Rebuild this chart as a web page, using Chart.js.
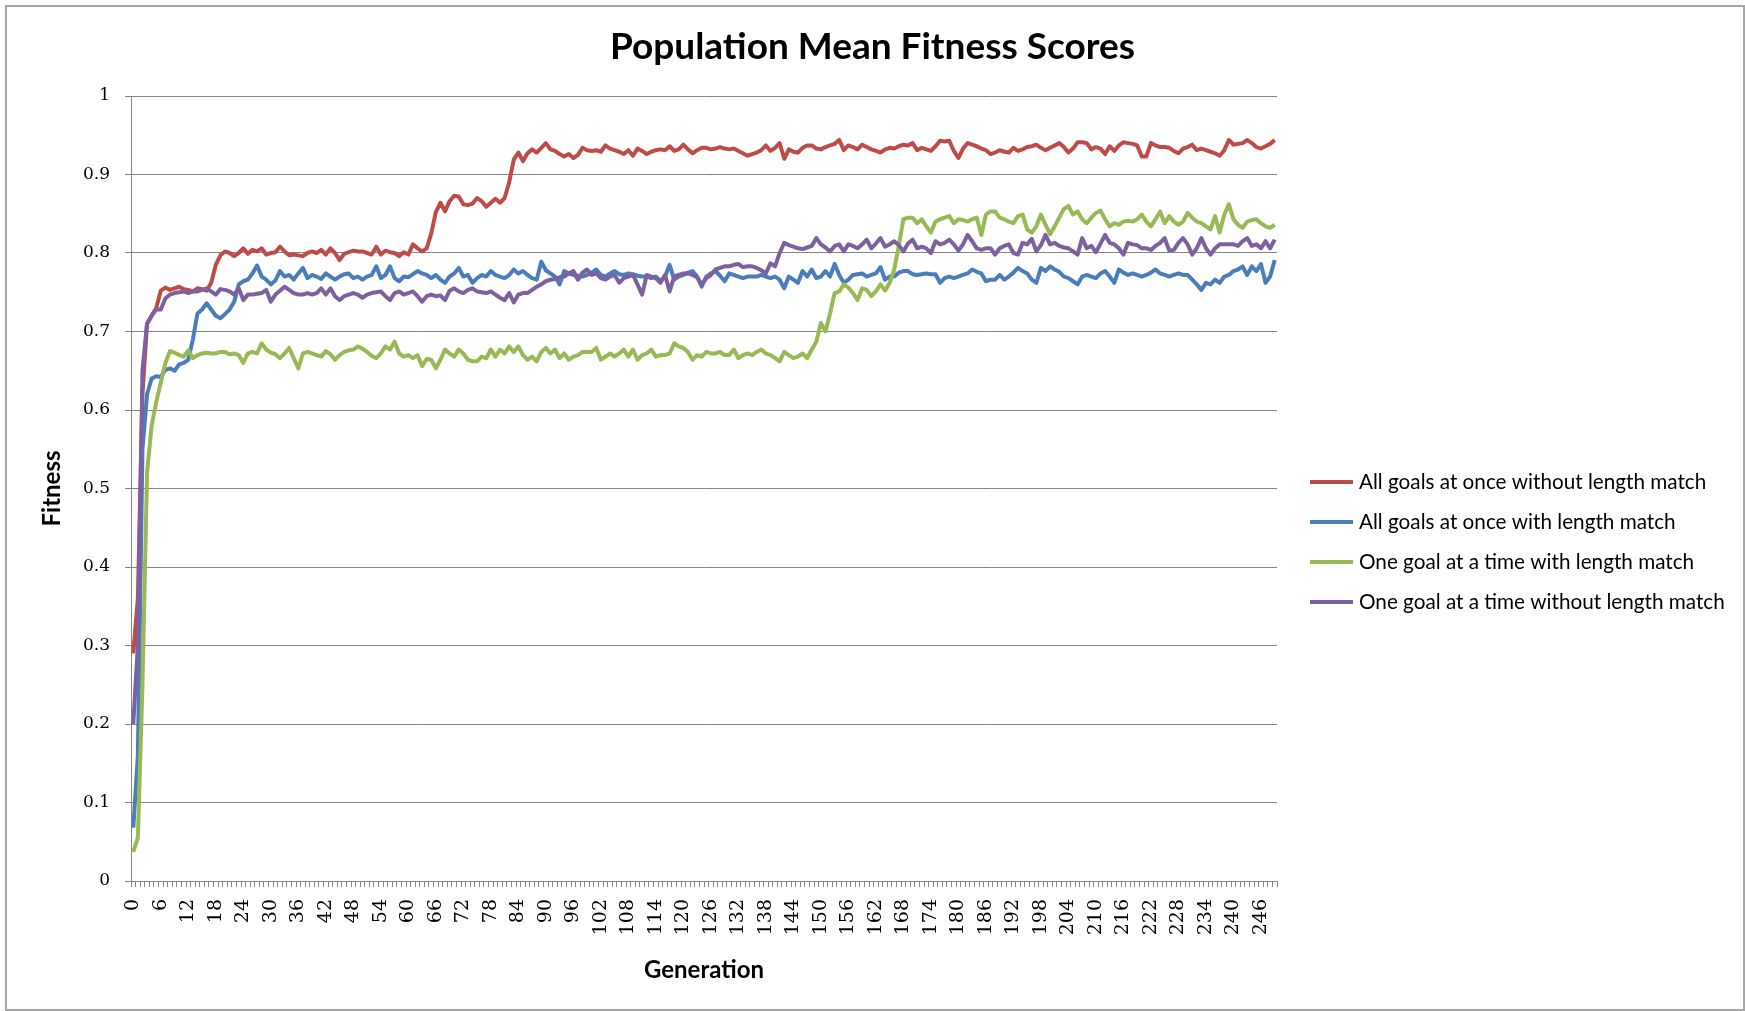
<!DOCTYPE html>
<html>
<head>
<meta charset="utf-8">
<title>Population Mean Fitness Scores</title>
<script src="https://cdn.jsdelivr.net/npm/chart.js@4.4.1/dist/chart.umd.min.js"></script>
<style>
  html, body { margin: 0; padding: 0; background: #fff; }
  #wrap { position: relative; width: 1745px; height: 1011px; overflow: hidden; }
  #frame { position: absolute; left: 5px; top: 5px; right: 0; bottom: 0; border: 2px solid #a6a6a6; pointer-events: none; }
</style>
</head>
<body>
<div id="wrap">
  <canvas id="fitness-chart" width="1745" height="1011"></canvas>
  <div id="frame"></div>
</div>
<script>
// --- data ---
const CHART_TITLE = "Population Mean Fitness Scores";
const X_TITLE = "Generation";
const Y_TITLE = "Fitness";
const TICK_EVERY = 6;

// generations 0..249
const generations = Array.from({ length: 250 }, (_, i) => String(i));

const seriesNames = [
  "All goals at once without length match",
  "All goals at once with length match",
  "One goal at a time with length match",
  "One goal at a time without length match"
];
const seriesColors = ["#BE4B48", "#4A7EBB", "#98B954", "#7D60A0"];

const allGoalsNoLength = [
  0.29,0.36,0.62,0.71,0.72,0.73,0.752,0.756,0.753,0.755,
  0.757,0.754,0.753,0.751,0.755,0.754,0.752,0.762,0.785,0.797,
  0.802,0.800,0.796,0.800,0.806,0.799,0.804,0.802,0.806,0.798,
  0.800,0.801,0.808,0.802,0.797,0.798,0.797,0.796,0.800,0.802,
  0.800,0.804,0.798,0.806,0.800,0.791,0.799,0.801,0.803,0.802,
  0.802,0.800,0.798,0.808,0.798,0.803,0.801,0.800,0.796,0.801,
  0.798,0.811,0.806,0.802,0.806,0.825,0.852,0.864,0.853,0.866,
  0.873,0.872,0.862,0.861,0.863,0.870,0.866,0.859,0.864,0.869,
  0.864,0.870,0.890,0.919,0.928,0.917,0.927,0.932,0.928,0.934,
  0.940,0.932,0.930,0.926,0.923,0.926,0.921,0.925,0.934,0.931,
  0.930,0.931,0.929,0.937,0.933,0.931,0.929,0.926,0.931,0.924,
  0.933,0.930,0.926,0.929,0.931,0.932,0.931,0.936,0.930,0.932,
  0.938,0.932,0.927,0.931,0.934,0.934,0.932,0.933,0.935,0.933,
  0.932,0.933,0.930,0.927,0.924,0.926,0.928,0.931,0.937,0.930,
  0.934,0.940,0.920,0.932,0.929,0.928,0.934,0.937,0.937,0.933,
  0.932,0.935,0.937,0.939,0.944,0.931,0.937,0.935,0.932,0.938,
  0.935,0.932,0.930,0.928,0.932,0.934,0.933,0.936,0.938,0.937,
  0.940,0.931,0.934,0.932,0.930,0.936,0.943,0.942,0.943,0.930,
  0.921,0.933,0.940,0.938,0.936,0.933,0.931,0.926,0.928,0.931,
  0.929,0.928,0.934,0.930,0.932,0.935,0.936,0.938,0.934,0.931,
  0.934,0.937,0.940,0.935,0.928,0.933,0.941,0.941,0.940,0.932,
  0.935,0.933,0.926,0.936,0.930,0.937,0.941,0.940,0.939,0.937,
  0.923,0.923,0.940,0.937,0.935,0.935,0.934,0.930,0.927,0.933,
  0.935,0.938,0.931,0.933,0.931,0.929,0.927,0.924,0.931,0.944,
  0.938,0.939,0.940,0.944,0.940,0.935,0.933,0.936,0.939,0.944
];

const allGoalsWithLength = [
  0.068,0.16,0.55,0.62,0.640,0.643,0.642,0.651,0.653,0.650,
  0.658,0.660,0.664,0.690,0.723,0.728,0.736,0.728,0.720,0.717,
  0.722,0.728,0.738,0.760,0.764,0.766,0.774,0.784,0.770,0.766,
  0.760,0.765,0.777,0.770,0.772,0.766,0.774,0.781,0.768,0.772,
  0.770,0.767,0.774,0.770,0.766,0.770,0.773,0.774,0.768,0.770,
  0.766,0.770,0.772,0.783,0.768,0.772,0.783,0.768,0.764,0.770,
  0.769,0.773,0.777,0.774,0.772,0.768,0.772,0.766,0.762,0.770,
  0.774,0.781,0.770,0.772,0.762,0.768,0.772,0.770,0.777,0.772,
  0.770,0.768,0.772,0.779,0.774,0.777,0.772,0.768,0.766,0.789,
  0.778,0.774,0.770,0.760,0.777,0.774,0.772,0.771,0.770,0.772,
  0.775,0.779,0.772,0.770,0.774,0.777,0.773,0.772,0.774,0.773,
  0.771,0.770,0.770,0.768,0.770,0.764,0.770,0.785,0.766,0.770,
  0.772,0.775,0.777,0.770,0.757,0.770,0.774,0.777,0.771,0.764,
  0.774,0.772,0.770,0.768,0.770,0.770,0.770,0.772,0.770,0.768,
  0.770,0.766,0.755,0.770,0.766,0.762,0.777,0.770,0.779,0.768,
  0.770,0.777,0.770,0.786,0.772,0.762,0.766,0.772,0.773,0.774,
  0.770,0.772,0.774,0.782,0.766,0.770,0.770,0.775,0.777,0.777,
  0.773,0.772,0.773,0.774,0.773,0.773,0.762,0.768,0.770,0.768,
  0.770,0.772,0.774,0.779,0.776,0.774,0.764,0.766,0.766,0.772,
  0.766,0.770,0.775,0.781,0.777,0.774,0.766,0.762,0.781,0.777,
  0.783,0.779,0.776,0.770,0.768,0.764,0.760,0.770,0.772,0.770,
  0.768,0.774,0.777,0.770,0.762,0.779,0.775,0.772,0.774,0.772,
  0.770,0.772,0.775,0.779,0.774,0.772,0.770,0.772,0.774,0.772,
  0.772,0.766,0.760,0.753,0.762,0.760,0.766,0.762,0.770,0.772,
  0.777,0.779,0.783,0.772,0.783,0.777,0.786,0.762,0.770,0.791
];

const oneGoalWithLength = [
  0.037,0.055,0.25,0.52,0.58,0.61,0.635,0.660,0.675,0.673,
  0.670,0.668,0.676,0.666,0.670,0.672,0.673,0.672,0.672,0.674,
  0.674,0.671,0.672,0.670,0.660,0.672,0.674,0.672,0.685,0.677,
  0.673,0.671,0.666,0.672,0.679,0.666,0.653,0.672,0.674,0.672,
  0.670,0.668,0.675,0.671,0.664,0.670,0.674,0.676,0.677,0.681,
  0.678,0.674,0.669,0.666,0.672,0.681,0.677,0.687,0.672,0.668,
  0.670,0.666,0.670,0.656,0.665,0.664,0.653,0.664,0.677,0.672,
  0.668,0.677,0.672,0.664,0.662,0.662,0.668,0.666,0.677,0.668,
  0.677,0.672,0.681,0.674,0.681,0.670,0.664,0.668,0.662,0.674,
  0.679,0.672,0.677,0.666,0.672,0.664,0.668,0.670,0.674,0.674,
  0.674,0.679,0.664,0.668,0.672,0.668,0.672,0.677,0.668,0.677,
  0.664,0.670,0.672,0.677,0.668,0.670,0.670,0.672,0.685,0.681,
  0.679,0.674,0.664,0.670,0.668,0.674,0.672,0.672,0.674,0.670,
  0.670,0.677,0.666,0.670,0.672,0.670,0.674,0.677,0.672,0.670,
  0.666,0.662,0.674,0.670,0.666,0.668,0.672,0.666,0.677,0.687,
  0.711,0.700,0.723,0.749,0.751,0.760,0.756,0.749,0.740,0.755,
  0.753,0.745,0.751,0.760,0.752,0.762,0.779,0.809,0.843,0.845,
  0.845,0.838,0.843,0.834,0.826,0.840,0.843,0.845,0.847,0.838,
  0.843,0.842,0.840,0.843,0.845,0.823,0.849,0.853,0.853,0.845,
  0.843,0.840,0.838,0.847,0.849,0.830,0.826,0.834,0.849,0.836,
  0.824,0.834,0.845,0.856,0.860,0.849,0.853,0.843,0.838,0.845,
  0.851,0.854,0.843,0.834,0.838,0.836,0.840,0.841,0.840,0.843,
  0.849,0.840,0.834,0.843,0.853,0.838,0.847,0.840,0.836,0.840,
  0.851,0.845,0.840,0.838,0.834,0.830,0.847,0.826,0.849,0.862,
  0.843,0.836,0.832,0.840,0.842,0.843,0.838,0.834,0.832,0.836
];

const oneGoalNoLength = [
  0.20,0.30,0.65,0.71,0.72,0.728,0.728,0.742,0.747,0.749,
  0.750,0.751,0.749,0.751,0.751,0.753,0.755,0.751,0.747,0.754,
  0.753,0.751,0.747,0.755,0.740,0.747,0.747,0.748,0.749,0.753,
  0.738,0.747,0.752,0.757,0.753,0.749,0.747,0.747,0.749,0.747,
  0.749,0.755,0.747,0.755,0.745,0.740,0.745,0.747,0.749,0.747,
  0.743,0.747,0.749,0.750,0.751,0.745,0.740,0.749,0.751,0.747,
  0.749,0.751,0.745,0.738,0.745,0.747,0.745,0.746,0.740,0.752,
  0.755,0.751,0.749,0.753,0.755,0.751,0.750,0.749,0.751,0.747,
  0.743,0.740,0.749,0.737,0.747,0.749,0.749,0.753,0.757,0.760,
  0.764,0.766,0.767,0.769,0.770,0.774,0.777,0.766,0.775,0.779,
  0.772,0.774,0.768,0.766,0.770,0.772,0.762,0.768,0.770,0.772,
  0.760,0.747,0.772,0.770,0.768,0.762,0.772,0.751,0.770,0.772,
  0.774,0.774,0.772,0.769,0.760,0.768,0.772,0.779,0.781,0.783,
  0.783,0.785,0.786,0.782,0.783,0.783,0.781,0.778,0.774,0.787,
  0.783,0.800,0.813,0.810,0.808,0.806,0.805,0.807,0.809,0.819,
  0.811,0.807,0.802,0.809,0.811,0.802,0.811,0.809,0.806,0.811,
  0.817,0.806,0.812,0.819,0.808,0.811,0.815,0.810,0.802,0.812,
  0.817,0.806,0.808,0.806,0.800,0.815,0.811,0.813,0.817,0.811,
  0.803,0.811,0.823,0.815,0.806,0.804,0.806,0.806,0.798,0.806,
  0.809,0.811,0.800,0.798,0.813,0.811,0.818,0.802,0.810,0.823,
  0.811,0.813,0.809,0.807,0.806,0.802,0.798,0.819,0.806,0.809,
  0.801,0.812,0.823,0.813,0.811,0.806,0.798,0.813,0.811,0.810,
  0.806,0.806,0.804,0.809,0.813,0.819,0.803,0.804,0.813,0.819,
  0.811,0.798,0.806,0.819,0.806,0.798,0.806,0.811,0.811,0.811,
  0.811,0.809,0.815,0.819,0.809,0.811,0.806,0.815,0.806,0.817
];

const seriesValues = [allGoalsNoLength, allGoalsWithLength, oneGoalWithLength, oneGoalNoLength];

// title + right-hand legend, drawn like the Excel original
const titleAndLegend = {
  id: "titleAndLegend",
  afterDraw(chart) {
    const { ctx, chartArea } = chart;
    ctx.save();
    ctx.fillStyle = "#000";
    ctx.textBaseline = "middle";

    ctx.font = "bold 37px Lato";
    ctx.textAlign = "center";
    ctx.fillText(CHART_TITLE, chart.width / 2, 47);

    ctx.font = "20.7px Lato";
    ctx.textAlign = "left";
    const x0 = chartArea.right + 33;
    chart.data.datasets.forEach((ds, i) => {
      const y = 482 + i * 40;
      ctx.strokeStyle = ds.borderColor;
      ctx.lineWidth = 4;
      ctx.lineCap = "butt";
      ctx.beginPath();
      ctx.moveTo(x0, y);
      ctx.lineTo(x0 + 43, y);
      ctx.stroke();
      ctx.fillText(ds.label, x0 + 49, y);
    });
    ctx.restore();
  }
};

function buildChart() {
  const canvas = document.getElementById("fitness-chart");
  const gridGray = "#868686";

  new Chart(canvas.getContext("2d"), {
    type: "line",
    data: {
      labels: generations,
      datasets: seriesNames.map((name, i) => ({
        label: name,
        data: seriesValues[i],
        borderColor: seriesColors[i],
        backgroundColor: seriesColors[i],
        borderWidth: 4,
        pointRadius: 0,
        tension: 0,
        borderJoinStyle: "round",
        fill: false,
        order: seriesNames.length - i // later series on top, like Excel
      }))
    },
    options: {
      responsive: false,
      animation: false,
      layout: { padding: { left: 5, right: 468, top: 96, bottom: 0 } },
      plugins: {
        legend: { display: false },
        title: { display: false },
        tooltip: { enabled: false }
      },
      scales: {
        x: {
          type: "category",
          offset: true,
          afterFit: (scale) => { scale.height = 130; },
          grid: {
            drawOnChartArea: false,
            drawTicks: true,
            tickLength: 6,
            offset: true,
            color: gridGray
          },
          border: { display: true, color: gridGray },
          ticks: {
            autoSkip: false,
            minRotation: 90,
            maxRotation: 90,
            padding: 12,
            color: "#000",
            font: { family: "DejaVu Serif", size: 19 },
            callback: function (value, index) {
              return index % TICK_EVERY === 0 ? this.getLabelForValue(value) : "";
            }
          },
          title: {
            display: true,
            text: X_TITLE,
            color: "#000",
            font: { family: "Lato", size: 24, weight: "bold" },
            padding: { top: 0, bottom: 26 }
          }
        },
        y: {
          min: 0,
          max: 1,
          afterFit: (scale) => { scale.width = 126; },
          grid: { color: gridGray, tickLength: 6, drawTicks: true },
          border: { display: true, color: gridGray },
          ticks: {
            stepSize: 0.1,
            padding: 15,
            color: "#000",
            font: { family: "DejaVu Serif", size: 17 },
            callback: (value) => String(Number(value.toFixed(1)))
          },
          title: {
            display: true,
            text: Y_TITLE,
            color: "#000",
            font: { family: "Lato", size: 24, weight: "bold" },
            padding: { top: 33, bottom: 0 }
          }
        }
      }
    },
    plugins: [titleAndLegend]
  });
}

Promise.all([
  document.fonts.load("bold 37px Lato"),
  document.fonts.load("20px Lato"),
  document.fonts.load("16px 'DejaVu Serif'")
]).catch(() => {}).then(buildChart);
</script>
</body>
</html>
